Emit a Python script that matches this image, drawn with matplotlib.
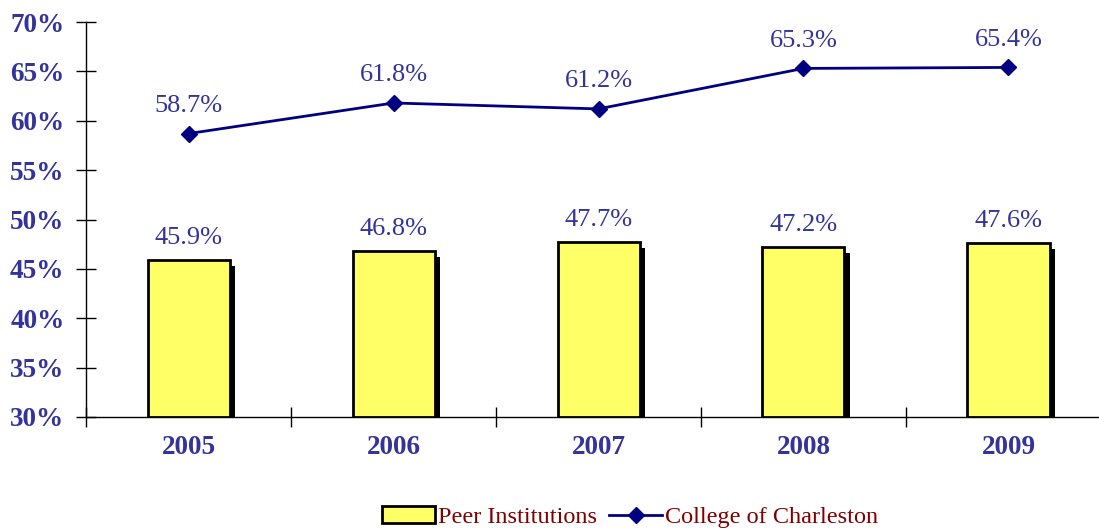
import matplotlib.pyplot as plt
import matplotlib.patheffects as pe
from matplotlib.patches import Patch
from matplotlib.lines import Line2D
import numpy as np

years = ["2005", "2006", "2007", "2008", "2009"]
peer = [45.9, 46.8, 47.7, 47.2, 47.6]
cofc = [58.7, 61.8, 61.2, 65.3, 65.4]
yticks = [30, 35, 40, 45, 50, 55, 60, 65, 70]

label_col = "#333399"
plt.rcParams["font.family"] = ["Liberation Serif", "DejaVu Serif"]

fig = plt.figure(figsize=(10.99, 5.29), dpi=100)
ax = fig.add_axes([86 / 1099, 112 / 529, 1025 / 1099, 395 / 529])

x = np.arange(len(years))
shadow = [pe.SimplePatchShadow(offset=(4, -4), shadow_rgbFace="black", alpha=1.0), pe.Normal()]
bars = ax.bar(x, [v - 30 for v in peer], bottom=30, width=0.4, color="#FFFF66",
              edgecolor="black", linewidth=2, zorder=3)
for b in bars:
    b.set_path_effects(shadow)
ax.plot(x, cofc, color="#000080", lw=2, marker="D", ms=8, zorder=4)

for xi, v in zip(x, peer):
    ax.annotate(f"{v}%", (xi, v), xytext=(0, 8), textcoords="offset points",
                ha="center", va="bottom", fontsize=19, color=label_col)
for xi, v in zip(x, cofc):
    ax.annotate(f"{v}%", (xi, v), xytext=(0, 12), textcoords="offset points",
                ha="center", va="bottom", fontsize=19, color=label_col)

ax.set_xlim(-0.5, len(years) - 0.5)
ax.set_ylim(30, 70)
ax.set_yticks(yticks)
ax.set_yticklabels([f"{t}%" for t in yticks], fontsize=19.5, fontweight="bold", color=label_col)
ax.set_xticks(np.arange(len(years) + 1) - 0.5)
ax.set_xticklabels([])
ax.set_xticks(x, minor=True)
ax.set_xticklabels(years, minor=True, fontsize=19.5, fontweight="bold", color=label_col)
ax.tick_params(axis="both", which="major", direction="inout", length=14, width=1, color="black")
ax.tick_params(axis="x", which="minor", length=0, pad=13)
ax.tick_params(axis="y", which="major", pad=8.5)
for s in ["top", "right"]:
    ax.spines[s].set_visible(False)
ax.spines["left"].set_linewidth(1)
ax.spines["bottom"].set_linewidth(1)

handles = [Patch(facecolor="#FFFF66", edgecolor="black", linewidth=2),
           Line2D([], [], color="#000080", lw=2, marker="D", ms=8)]
leg = fig.legend(handles, ["Peer Institutions", "College of Charleston"], loc="center",
                 bbox_to_anchor=(630 / 1099, 1 - 517 / 529), ncol=2, frameon=False,
                 fontsize=17.5, handlelength=2.2, handletextpad=0.1, columnspacing=0.5)
for t in leg.get_texts():
    t.set_color("#800000")

fig.savefig("out.png", dpi=100)
